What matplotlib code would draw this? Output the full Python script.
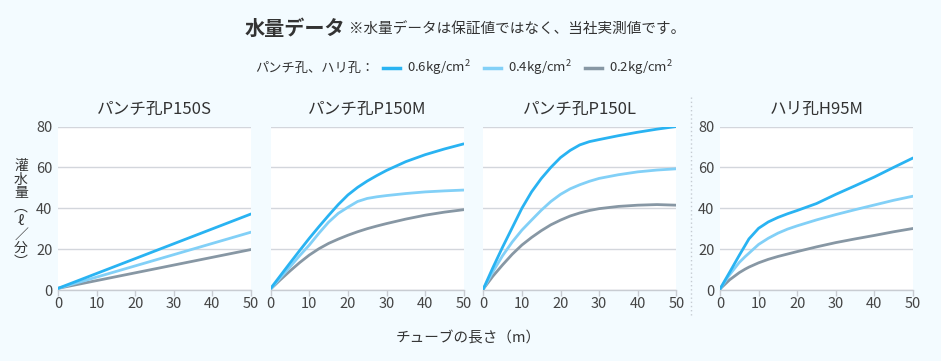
import matplotlib
matplotlib.use("Agg")
import matplotlib.pyplot as plt
from matplotlib.lines import Line2D

plt.rcParams['font.family'] = ['Noto Sans CJK JP', 'DejaVu Sans']
plt.rcParams['mathtext.fontset'] = 'custom'
plt.rcParams['mathtext.rm'] = 'Noto Sans CJK JP'

# ---- data ----
panel_titles = ["パンチ孔P150S", "パンチ孔P150M", "パンチ孔P150L", "ハリ孔H95M"]
pressures = [r"0.6kg/cm$^{\mathregular{2}}$", r"0.4kg/cm$^{\mathregular{2}}$",
             r"0.2kg/cm$^{\mathregular{2}}$"]
colors = ["#29b3f2", "#82d0f7", "#8797a4"]

x_s = [0, 50]
s_06 = [0.8, 37.2]
s_04 = [0.8, 28.3]
s_02 = [0.8, 19.8]

x_m = [0, 2.5, 5, 7.5, 10, 12.5, 15, 17.5, 20, 22.5, 25, 27.5, 30, 35, 40, 45, 50]
m_06 = [0.8, 7.0, 13.2, 19.3, 25.3, 31.0, 36.5, 41.8, 46.5, 50.2, 53.3, 56.0, 58.5, 62.8, 66.2, 69.0, 71.5]
m_04 = [0.5, 6.0, 11.3, 16.8, 22.0, 27.8, 33.2, 37.5, 40.5, 43.3, 44.8, 45.6, 46.2, 47.2, 48.0, 48.5, 48.9]
m_02 = [0.5, 5.0, 9.3, 13.4, 17.1, 20.2, 22.8, 24.9, 26.8, 28.5, 30.0, 31.3, 32.5, 34.7, 36.6, 38.1, 39.3]

x_l = [0, 2.5, 5, 7.5, 10, 12.5, 15, 17.5, 20, 22.5, 25, 27.5, 30, 35, 40, 45, 50]
l_06 = [0.5, 11.0, 21.0, 30.5, 40.0, 48.0, 54.5, 60.0, 64.8, 68.3, 71.0, 72.6, 73.6, 75.5, 77.2, 78.7, 80.0]
l_04 = [0.5, 9.0, 16.8, 23.5, 29.3, 34.2, 39.0, 43.3, 46.8, 49.5, 51.5, 53.2, 54.6, 56.4, 57.8, 58.7, 59.3]
l_02 = [0.5, 6.8, 12.3, 17.5, 22.0, 25.7, 29.0, 31.9, 34.2, 36.2, 37.7, 38.9, 39.8, 40.9, 41.5, 41.8, 41.5]

x_h = [0, 2.5, 5, 6.5, 7.5, 10, 12.5, 15, 17.5, 20, 25, 30, 35, 40, 45, 50]
h_06 = [0.5, 8.7, 17.0, 21.8, 25.0, 30.2, 33.3, 35.5, 37.3, 38.9, 42.3, 46.8, 51.0, 55.3, 60.0, 64.6]
h_04 = [0.5, 7.5, 13.5, 16.3, 18.0, 22.3, 25.3, 27.8, 29.8, 31.4, 34.3, 36.9, 39.3, 41.6, 43.9, 45.9]
h_02 = [0.5, 5.0, 8.5, 10.2, 11.2, 13.3, 15.0, 16.4, 17.6, 18.8, 21.1, 23.2, 25.0, 26.7, 28.5, 30.1]

panels = [
    (x_s, [s_06, s_04, s_02]),
    (x_m, [m_06, m_04, m_02]),
    (x_l, [l_06, l_04, l_02]),
    (x_h, [h_06, h_04, h_02]),
]
x_ticks = [0, 10, 20, 30, 40, 50]
y_ticks = [0, 20, 40, 60, 80]

# ---- figure ----
W, H = 941, 361
fig = plt.figure(figsize=(W / 100, H / 100), dpi=100)
bg = "#f3fbff"
fig.patch.set_facecolor(bg)

lefts = [58, 270.7, 483.3, 720]
width_px = 193
top_px, bot_px = 126.5, 290

text_col = "#333333"
tick_col = "#444444"

for i, (left, title, (xs, ys)) in enumerate(zip(lefts, panel_titles, panels)):
    ax = fig.add_axes([left / W, 1 - bot_px / H, width_px / W, (bot_px - top_px) / H])
    ax.set_facecolor("white")
    for yv, c in zip(reversed(ys), reversed(colors)):
        ax.plot(xs, yv, color=c, lw=2.0, solid_capstyle='round',
                solid_joinstyle='round', zorder=3)
    ax.set_xlim(0, 50)
    ax.set_ylim(0, 80)
    ax.set_xticks(x_ticks)
    ax.set_yticks(y_ticks)
    ax.grid(axis='y', color="#d3d6dc", lw=1.0, zorder=0)
    ax.grid(axis='x', visible=False)
    for s in ['top', 'right', 'left']:
        ax.spines[s].set_visible(False)
    ax.spines['bottom'].set_color("#c8ccd2")
    ax.spines['bottom'].set_linewidth(1.0)
    ax.tick_params(axis='x', length=4, width=1, color="#c8ccd2", labelsize=10.5,
                   labelcolor=tick_col, pad=1)
    ax.tick_params(axis='y', length=0, labelsize=10.5, labelcolor=tick_col, pad=4)
    if i in (1, 2):
        ax.tick_params(axis='y', labelleft=False)
    ax.set_title(title, fontsize=12, color=text_col, pad=9)

# title and note
fig.text(245 / W, 1 - 28 / H, "水量データ", fontsize=14.5, fontweight='bold',
         color=text_col, ha='left', va='center')
fig.text(349 / W, 1 - 29 / H, "※水量データは保証値ではなく、当社実測値です。",
         fontsize=10.5, color=text_col, ha='left', va='center')

# legend row
ly = 1 - 68 / H
fig.text(255 / W, ly, "パンチ孔、ハリ孔：", fontsize=9.5, color=text_col,
         ha='left', va='center')
line_starts = [383, 484, 585]
for xs0, c, lab in zip(line_starts, colors, pressures):
    fig.add_artist(Line2D([xs0 / W, (xs0 + 17) / W], [ly, ly], color=c, lw=2.5,
                          transform=fig.transFigure))
    fig.text((xs0 + 24) / W, ly, lab, fontsize=9.5, color=text_col,
             ha='left', va='center')

# x label
fig.text(468 / W, 1 - 338 / H, "チューブの長さ（m）", fontsize=10.5, color=text_col,
         ha='center', va='center')

# vertical y label
ylab_chars = ["灌", "水", "量", "︵", "ℓ", "／", "分", "︶"]
y0 = 166
step = 13.7
for k, ch in enumerate(ylab_chars):
    fig.text(21 / W, 1 - (y0 + k * step) / H, ch, fontsize=10, color=text_col,
             ha='center', va='center')

# dotted separator
fig.add_artist(Line2D([691 / W, 691 / W], [1 - 97 / H, 1 - 315 / H], color="#c5cbd2",
                      lw=1, linestyle=(0, (1, 2)), transform=fig.transFigure))

fig.savefig("out.png", dpi=100, facecolor=bg)
